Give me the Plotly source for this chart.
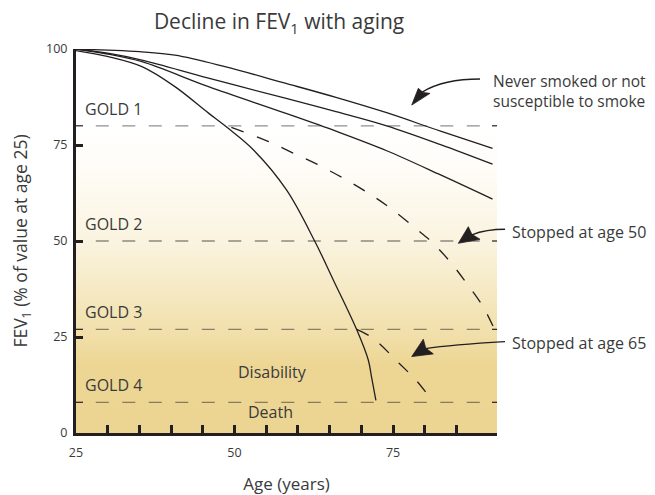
import plotly.graph_objects as go

# ---------------- data ----------------
ages_never = [25, 30, 35, 40.6, 48.5, 58, 66, 74, 82.5, 90.7]
fev_never = [100, 99.7, 99.3, 98.4, 95.4, 91.1, 87.4, 83.4, 78.6, 74.1]

ages_mid = [25, 30, 35.4, 45.9, 58, 66, 74, 82.5, 90.7]
fev_mid = [100, 98.9, 97.1, 92.4, 87.2, 83.7, 80.0, 75.1, 70.0]

ages_low = [25, 30, 35.4, 45.9, 58, 66, 74, 82.5, 90.7]
fev_low = [100, 98.7, 96.7, 90.2, 83.3, 78.6, 73.5, 67.2, 60.9]

ages_susc = [25, 30.1, 35.4, 40.6, 45.9, 48.8, 53.0, 58.2, 62.7, 65.6, 69.3, 71.1, 71.6, 72.3]
fev_susc = [99.6, 98.0, 95.4, 90.2, 83.3, 79.6, 73.7, 63.3, 49.8, 39.8, 26.8, 19.0, 14.7, 8.5]

ages_stop50 = [49.5, 55.1, 59, 63, 66.9, 70.6, 74.3, 79.5, 81.1, 84.0, 86.6, 89.2, 90.8]
fev_stop50 = [79.6, 76.1, 73.1, 70.0, 66.6, 63.0, 58.9, 52.0, 49.8, 44.6, 39.0, 32.9, 27.7]

ages_stop65 = [69.3, 71.9, 76.0, 78.6, 80.5]
fev_stop65 = [27.0, 24.6, 18.1, 13.8, 9.9]

gold_levels = [80, 50, 27, 8]
gold_labels = ["GOLD 1", "GOLD 2", "GOLD 3", "GOLD 4"]

x_ticks = [25, 50, 75]
x_minor_ticks = [30, 35, 40, 45, 55, 60, 65, 70, 80, 85]
y_ticks = [0, 25, 50, 75, 100]

x_range = [25, 91.4]
y_range = [0, 100]

INK = "#231f20"
TXT = "#3a3a3a"
FONT = "Open Sans"

fig = go.Figure()

# background gradient (white at GOLD 1 -> tan at bottom)
fig.add_trace(go.Scatter(
    x=[x_range[0], x_range[1], x_range[1], x_range[0], x_range[0]],
    y=[y_range[0], y_range[0], gold_levels[0], gold_levels[0], y_range[0]],
    mode="lines", line=dict(width=0), fill="toself",
    fillgradient=dict(type="vertical", start=y_range[0], stop=gold_levels[0],
                      colorscale=[[0, "#ecd592"], [0.22, "#edd694"], [0.34, "#f2e1ae"],
                                  [0.62, "#faf3df"], [0.85, "#fefcf6"], [1, "#ffffff"]]),
    hoverinfo="skip", showlegend=False))

solid = dict(color=INK, width=1.3, shape="spline", smoothing=1.0)
for xs, ys in [(ages_never, fev_never), (ages_mid, fev_mid), (ages_low, fev_low), (ages_susc, fev_susc)]:
    fig.add_trace(go.Scatter(x=xs, y=ys, mode="lines", line=solid, hoverinfo="skip", showlegend=False))

dashed = dict(color=INK, width=1.3, dash="13px,14px", shape="spline", smoothing=1.0)
for xs, ys in [(ages_stop50, fev_stop50), (ages_stop65, fev_stop65)]:
    fig.add_trace(go.Scatter(x=xs, y=ys, mode="lines", line=dashed, hoverinfo="skip", showlegend=False))

shapes = []
annotations = []
for lvl, lab in zip(gold_levels, gold_labels):
    shapes.append(dict(type="line", xref="paper", yref="y", x0=0.047, x1=0.965, y0=lvl, y1=lvl,
                       line=dict(color="rgba(35,31,32,0.5)", width=1.3, dash="13px,13.5px")))
    shapes.append(dict(type="line", xref="paper", yref="y", xsizemode="pixel", xanchor=0,
                       x0=0, x1=7, y0=lvl, y1=lvl, line=dict(color=INK, width=1.2)))
    shapes.append(dict(type="line", xref="paper", yref="y", xsizemode="pixel", xanchor=1,
                       x0=-5, x1=0, y0=lvl, y1=lvl, line=dict(color=INK, width=1.2)))
    annotations.append(dict(text=lab, xref="paper", yref="y", x=0.016, y=lvl, yshift=17,
                            xanchor="left", yanchor="middle", showarrow=False,
                            font=dict(family=FONT, size=16, color=TXT)))

annotations.append(dict(text="Disability", xref="x", yref="y", x=56.0, y=15.9, showarrow=False,
                        font=dict(family=FONT, size=16, color=TXT)))
annotations.append(dict(text="Death", xref="x", yref="y", x=55.6, y=5.5, showarrow=False,
                        font=dict(family=FONT, size=16, color=TXT)))

# callouts: text, text position (paper x, data y), font size, arrow tip (data), tail path, head path (px rel. to tip)
callouts = [
    ("Never smoked or not<br>susceptible to smoke", 0.986, 89.1, 15.5, (77.95, 85.4),
     "M68.3,26 Q32,26 10.5,13", "M0,0 L6.6,16.7 L11.5,12.5 L18.3,11.7 Z"),
    ("Stopped at age 50", 1.031, 52.3, 16, (85.3, 49.4),
     "M46.7,14 Q28,14 13.5,8.5", "M0,0 L10,16.6 L13.5,9 L21.7,4 Z"),
    ("Stopped at age 65", 1.031, 23.4, 16, (77.95, 19.9),
     "M93.3,15 Q40,12 13.5,8", "M0,0 L11.6,17.4 L14,8.5 L21.6,2.7 Z"),
]

def xpaper(v):
    return (v - x_range[0]) / (x_range[1] - x_range[0])

def ypaper(v):
    return (v - y_range[0]) / (y_range[1] - y_range[0])

for text, tx, ty, fs, tip, tail, head in callouts:
    annotations.append(dict(text=text, xref="paper", yref="y", x=tx, y=ty, xanchor="left",
                            yanchor="middle", align="left", showarrow=False,
                            font=dict(family=FONT, size=fs, color=TXT)))
    base = dict(type="path", xref="paper", yref="paper", xsizemode="pixel", ysizemode="pixel",
                xanchor=xpaper(tip[0]), yanchor=ypaper(tip[1]))
    shapes.append(dict(base, path=tail, line=dict(color=INK, width=1.4)))
    shapes.append(dict(base, path=head, fillcolor=INK, line=dict(color=INK, width=0.8)))

# the page body adds an 8px margin, so the figure is 8px smaller and shifted
fig.update_layout(
    width=647, height=487,
    margin=dict(l=68, r=158, t=41, b=62),
    paper_bgcolor="white", plot_bgcolor="white",
    font=dict(family=FONT, color=TXT),
    title=dict(text="Decline in FEV<sub>1</sub> with aging", x=0.419, xref="container",
               xanchor="center", y=1 - 14 / 487, yref="container", yanchor="middle",
               font=dict(family=FONT, size=21, color=TXT)),
    shapes=shapes, annotations=annotations,
    xaxis=dict(range=x_range, showgrid=False, zeroline=False, showline=True, linecolor=INK,
               linewidth=3, ticks="inside", ticklen=8, tickwidth=3, tickcolor=INK,
               tickmode="array", tickvals=x_ticks, ticktext=[str(v) for v in x_ticks],
               ticklabelstandoff=6, automargin=False,
               minor=dict(tickmode="array", tickvals=x_minor_ticks, ticks="inside",
                          ticklen=8, tickwidth=3, tickcolor=INK, showgrid=False),
               tickfont=dict(family=FONT, size=12.5, color=TXT),
               title=dict(text="Age (years)", standoff=24, font=dict(family=FONT, size=17, color=TXT))),
    yaxis=dict(range=y_range, showgrid=False, zeroline=False, showline=True, linecolor=INK,
               linewidth=3, ticks="inside", ticklen=7, tickwidth=3, tickcolor=INK,
               tickmode="array", tickvals=y_ticks, ticktext=[str(v) for v in y_ticks],
               ticklabelstandoff=3, automargin=False,
               tickfont=dict(family=FONT, size=12.5, color=TXT),
               title=dict(text="FEV<sub>1</sub> (% of value at age 25)", standoff=22,
                          font=dict(family=FONT, size=17.5, color=TXT))),
)

fig.write_html("out.html")
